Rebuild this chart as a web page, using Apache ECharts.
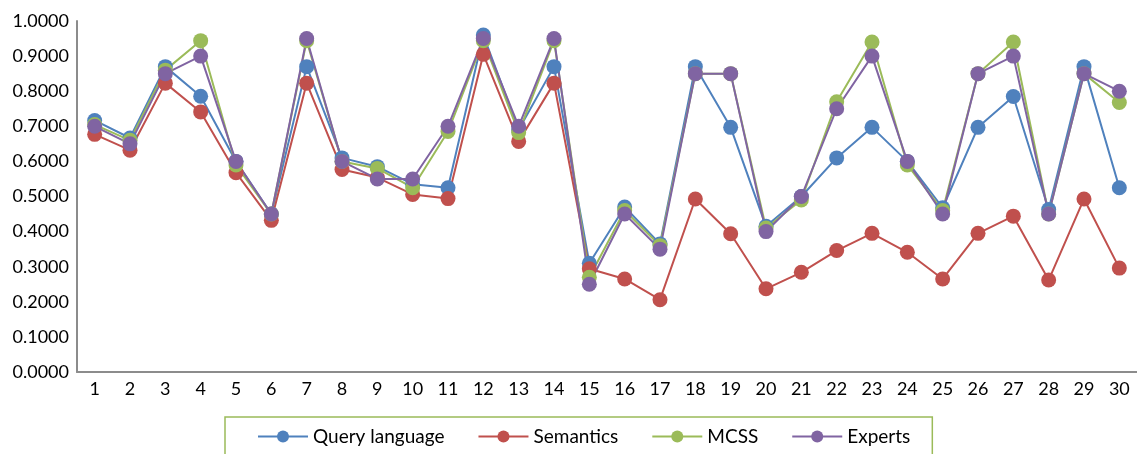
<!DOCTYPE html>
<html>
<head>
<meta charset="utf-8">
<script src="https://cdn.jsdelivr.net/npm/echarts@6/dist/echarts.min.js"></script>
<style>html,body{margin:0;padding:0;background:#fff;}#c{width:1137px;height:454px;}</style>
</head>
<body>
<div id="c"></div>
<script>
const categories = ['1','2','3','4','5','6','7','8','9','10','11','12','13','14','15','16','17','18','19','20','21','22','23','24','25','26','27','28','29','30'];
const queryLanguage = [0.7167,0.6667,0.8700,0.7857,0.6000,0.4500,0.8700,0.6100,0.5850,0.5350,0.5250,0.9600,0.6900,0.8700,0.3100,0.4700,0.3650,0.8700,0.6970,0.4150,0.5000,0.6100,0.6970,0.6000,0.4680,0.6970,0.7850,0.4630,0.8700,0.5250];
const semantics = [0.6770,0.6320,0.8230,0.7410,0.5680,0.4320,0.8230,0.5770,0.5540,0.5060,0.4940,0.9050,0.6570,0.8230,0.2940,0.2650,0.2060,0.4930,0.3940,0.2370,0.2840,0.3460,0.3950,0.3410,0.2650,0.3950,0.4440,0.2620,0.4930,0.2960];
const mcss = [0.7050,0.6600,0.8600,0.9440,0.5900,0.4500,0.9440,0.6000,0.5800,0.5250,0.6850,0.9440,0.6820,0.9440,0.2700,0.4600,0.3600,0.8500,0.8500,0.4100,0.4900,0.7700,0.9400,0.5900,0.4600,0.8500,0.9400,0.4500,0.8500,0.7680];
const experts = [0.70,0.65,0.85,0.90,0.60,0.45,0.95,0.60,0.55,0.55,0.70,0.95,0.70,0.95,0.25,0.45,0.35,0.85,0.85,0.40,0.50,0.75,0.90,0.60,0.45,0.85,0.90,0.45,0.85,0.80];
const seriesNames = ['Query language','Semantics','MCSS','Experts'];
const colors = ['#4F81BD','#C0504D','#9BBB59','#8064A2'];
const font = 'Lato, "Open Sans", sans-serif';

const chart = echarts.init(document.getElementById('c'));
const dataSets = [queryLanguage, semantics, mcss, experts];
chart.setOption({
  animation: false,
  color: colors,
  textStyle: {fontFamily: font},
  grid: {left: 77, top: 21, width: 1066, height: 351, containLabel: false},
  legend: {
    left: 225, top: 417,
    padding: [10, 22, 10, 32],
    borderColor: '#9BBB59', borderWidth: 1.5,
    itemWidth: 50, itemHeight: 15, itemGap: 33,
    textStyle: {fontSize: 19, color: '#000', fontFamily: font},
    data: seriesNames
  },
  xAxis: {
    type: 'category', data: categories, boundaryGap: true,
    axisLine: {lineStyle: {color: '#8c8c8c', width: 2}},
    axisTick: {show: false},
    axisLabel: {fontSize: 18, color: '#000', margin: 8, fontFamily: font, interval: 0}
  },
  yAxis: {
    type: 'value', min: 0, max: 1, interval: 0.1,
    axisLine: {show: true, lineStyle: {color: '#8c8c8c', width: 2}},
    axisTick: {show: false},
    splitLine: {show: false},
    axisLabel: {fontSize: 18, color: '#000', margin: 8, fontFamily: font, formatter: v => v.toFixed(4)}
  },
  series: seriesNames.map((n, i) => ({
    name: n, type: 'line', data: dataSets[i],
    symbol: 'circle', symbolSize: 15,
    lineStyle: {width: 2, color: colors[i]},
    itemStyle: {color: colors[i]}
  }))
});
</script>
</body>
</html>
